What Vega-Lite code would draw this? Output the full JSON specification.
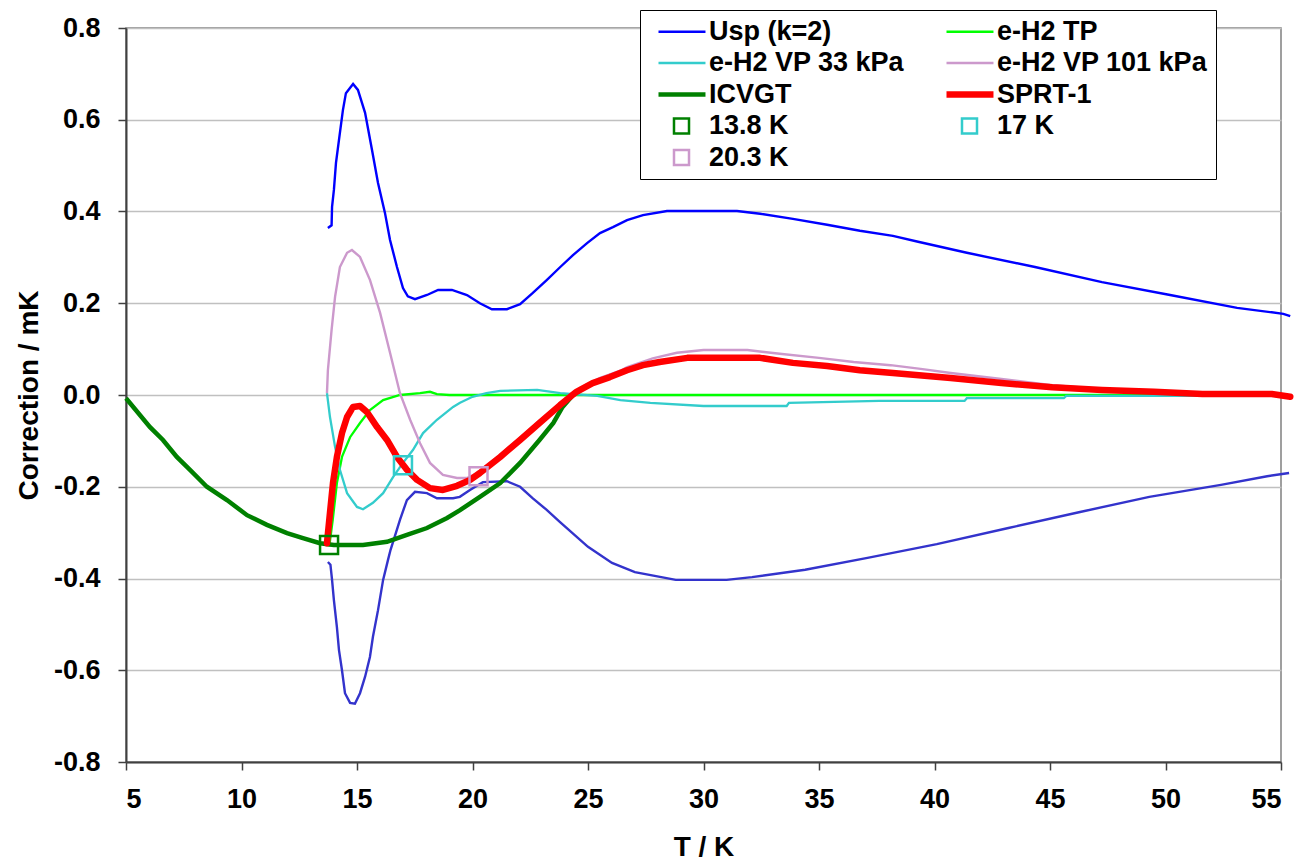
{
  "$schema": "https://vega.github.io/schema/vega-lite/v6.json",
  "width": 1155,
  "height": 734,
  "autosize": {"type": "none"},
  "padding": {"left": 126, "top": 28, "right": 17, "bottom": 102},
  "background": "white",
  "config": {
    "view": {"stroke": "#808080", "strokeWidth": 1.5},
    "axis": {
      "labelFont": "Liberation Sans", "labelFontSize": 27, "labelFontWeight": "bold", "labelColor": "black",
      "titleFont": "Liberation Sans", "titleFontSize": 28, "titleFontWeight": "bold", "titleColor": "black",
      "domainColor": "#404040", "domainWidth": 2, "tickColor": "#404040", "tickWidth": 1.5, "tickSize": 8
    },
    "legend": {
      "labelFont": "Liberation Sans", "labelFontSize": 27, "labelFontWeight": "bold", "labelColor": "black",
      "orient": "none", "legendX": 514, "legendY": -18, "direction": "horizontal",
      "columns": 2, "columnPadding": 28, "rowPadding": 3.5,
      "symbolSize": 380, "symbolOffset": 20, "labelOffset": 14, "labelLimit": 400,
      "symbolFillColor": "transparent", "symbolStrokeWidth": 2.5,
      "strokeColor": "black", "fillColor": "white", "padding": 8
    }
  },
  "data": {
    "values": [
      {"s": "Usp (k=2)", "T": 13.74, "C": 0.364}, {"s": "Usp (k=2)", "T": 13.9, "C": 0.37}, {"s": "Usp (k=2)", "T": 13.92, "C": 0.41},
      {"s": "Usp (k=2)", "T": 14.0, "C": 0.447}, {"s": "Usp (k=2)", "T": 14.09, "C": 0.506}, {"s": "Usp (k=2)", "T": 14.22, "C": 0.556},
      {"s": "Usp (k=2)", "T": 14.39, "C": 0.621}, {"s": "Usp (k=2)", "T": 14.52, "C": 0.658}, {"s": "Usp (k=2)", "T": 14.83, "C": 0.678},
      {"s": "Usp (k=2)", "T": 15.04, "C": 0.665}, {"s": "Usp (k=2)", "T": 15.35, "C": 0.615}, {"s": "Usp (k=2)", "T": 15.65, "C": 0.534},
      {"s": "Usp (k=2)", "T": 15.91, "C": 0.462}, {"s": "Usp (k=2)", "T": 16.21, "C": 0.397}, {"s": "Usp (k=2)", "T": 16.43, "C": 0.338},
      {"s": "Usp (k=2)", "T": 16.73, "C": 0.279}, {"s": "Usp (k=2)", "T": 16.99, "C": 0.233}, {"s": "Usp (k=2)", "T": 17.2, "C": 0.215},
      {"s": "Usp (k=2)", "T": 17.51, "C": 0.209}, {"s": "Usp (k=2)", "T": 18.03, "C": 0.218}, {"s": "Usp (k=2)", "T": 18.51, "C": 0.229},
      {"s": "Usp (k=2)", "T": 19.11, "C": 0.229}, {"s": "Usp (k=2)", "T": 19.76, "C": 0.218}, {"s": "Usp (k=2)", "T": 20.32, "C": 0.2},
      {"s": "Usp (k=2)", "T": 20.84, "C": 0.187}, {"s": "Usp (k=2)", "T": 21.49, "C": 0.187}, {"s": "Usp (k=2)", "T": 22.06, "C": 0.198},
      {"s": "Usp (k=2)", "T": 22.6, "C": 0.222}, {"s": "Usp (k=2)", "T": 23.2, "C": 0.25}, {"s": "Usp (k=2)", "T": 23.8, "C": 0.279},
      {"s": "Usp (k=2)", "T": 24.35, "C": 0.305}, {"s": "Usp (k=2)", "T": 24.96, "C": 0.331}, {"s": "Usp (k=2)", "T": 25.52, "C": 0.353},
      {"s": "Usp (k=2)", "T": 26.08, "C": 0.366}, {"s": "Usp (k=2)", "T": 26.69, "C": 0.381}, {"s": "Usp (k=2)", "T": 27.38, "C": 0.392},
      {"s": "Usp (k=2)", "T": 28.42, "C": 0.401}, {"s": "Usp (k=2)", "T": 31.45, "C": 0.401}, {"s": "Usp (k=2)", "T": 32.45, "C": 0.395},
      {"s": "Usp (k=2)", "T": 33.87, "C": 0.384}, {"s": "Usp (k=2)", "T": 35.35, "C": 0.371}, {"s": "Usp (k=2)", "T": 36.77, "C": 0.358},
      {"s": "Usp (k=2)", "T": 38.2, "C": 0.347}, {"s": "Usp (k=2)", "T": 39.29, "C": 0.334}, {"s": "Usp (k=2)", "T": 41.4, "C": 0.31},
      {"s": "Usp (k=2)", "T": 44.35, "C": 0.279}, {"s": "Usp (k=2)", "T": 47.25, "C": 0.246}, {"s": "Usp (k=2)", "T": 50.2, "C": 0.218},
      {"s": "Usp (k=2)", "T": 53.1, "C": 0.19}, {"s": "Usp (k=2)", "T": 55.1, "C": 0.177}, {"s": "Usp (k=2)", "T": 55.4, "C": 0.172},

      {"s": "Usp lower", "T": 13.74, "C": -0.364}, {"s": "Usp lower", "T": 13.85, "C": -0.37}, {"s": "Usp lower", "T": 13.92, "C": -0.403},
      {"s": "Usp lower", "T": 14.0, "C": -0.447}, {"s": "Usp lower", "T": 14.13, "C": -0.506}, {"s": "Usp lower", "T": 14.22, "C": -0.556},
      {"s": "Usp lower", "T": 14.35, "C": -0.6}, {"s": "Usp lower", "T": 14.48, "C": -0.65}, {"s": "Usp lower", "T": 14.7, "C": -0.671},
      {"s": "Usp lower", "T": 14.91, "C": -0.673}, {"s": "Usp lower", "T": 15.13, "C": -0.65}, {"s": "Usp lower", "T": 15.35, "C": -0.614},
      {"s": "Usp lower", "T": 15.56, "C": -0.571}, {"s": "Usp lower", "T": 15.69, "C": -0.527}, {"s": "Usp lower", "T": 15.91, "C": -0.469},
      {"s": "Usp lower", "T": 16.13, "C": -0.403}, {"s": "Usp lower", "T": 16.34, "C": -0.36}, {"s": "Usp lower", "T": 16.45, "C": -0.338},
      {"s": "Usp lower", "T": 16.86, "C": -0.272}, {"s": "Usp lower", "T": 17.16, "C": -0.229}, {"s": "Usp lower", "T": 17.51, "C": -0.211},
      {"s": "Usp lower", "T": 18.03, "C": -0.214}, {"s": "Usp lower", "T": 18.46, "C": -0.225}, {"s": "Usp lower", "T": 19.16, "C": -0.225},
      {"s": "Usp lower", "T": 19.45, "C": -0.222}, {"s": "Usp lower", "T": 19.89, "C": -0.207}, {"s": "Usp lower", "T": 20.45, "C": -0.19},
      {"s": "Usp lower", "T": 21.49, "C": -0.188}, {"s": "Usp lower", "T": 22.06, "C": -0.2}, {"s": "Usp lower", "T": 22.6, "C": -0.225},
      {"s": "Usp lower", "T": 23.2, "C": -0.25}, {"s": "Usp lower", "T": 23.79, "C": -0.277}, {"s": "Usp lower", "T": 25.0, "C": -0.331},
      {"s": "Usp lower", "T": 26.04, "C": -0.366}, {"s": "Usp lower", "T": 27.03, "C": -0.386}, {"s": "Usp lower", "T": 28.8, "C": -0.403},
      {"s": "Usp lower", "T": 31.0, "C": -0.403}, {"s": "Usp lower", "T": 32.1, "C": -0.397}, {"s": "Usp lower", "T": 34.4, "C": -0.381},
      {"s": "Usp lower", "T": 37.1, "C": -0.355}, {"s": "Usp lower", "T": 40.1, "C": -0.325}, {"s": "Usp lower", "T": 43.2, "C": -0.29},
      {"s": "Usp lower", "T": 46.3, "C": -0.255}, {"s": "Usp lower", "T": 49.3, "C": -0.222}, {"s": "Usp lower", "T": 52.4, "C": -0.196},
      {"s": "Usp lower", "T": 54.4, "C": -0.177}, {"s": "Usp lower", "T": 55.35, "C": -0.17},

      {"s": "e-H2 TP", "T": 13.8, "C": -0.33}, {"s": "e-H2 TP", "T": 13.95, "C": -0.272}, {"s": "e-H2 TP", "T": 14.13, "C": -0.192},
      {"s": "e-H2 TP", "T": 14.35, "C": -0.135}, {"s": "e-H2 TP", "T": 14.7, "C": -0.092}, {"s": "e-H2 TP", "T": 15.13, "C": -0.061},
      {"s": "e-H2 TP", "T": 15.56, "C": -0.033}, {"s": "e-H2 TP", "T": 16.13, "C": -0.011}, {"s": "e-H2 TP", "T": 16.86, "C": 0.0},
      {"s": "e-H2 TP", "T": 17.73, "C": 0.004}, {"s": "e-H2 TP", "T": 18.16, "C": 0.007}, {"s": "e-H2 TP", "T": 18.46, "C": 0.002},
      {"s": "e-H2 TP", "T": 19.0, "C": 0.0}, {"s": "e-H2 TP", "T": 55.3, "C": 0.0},

      {"s": "e-H2 VP 33 kPa", "T": 13.7, "C": 0.004}, {"s": "e-H2 VP 33 kPa", "T": 13.83, "C": -0.048}, {"s": "e-H2 VP 33 kPa", "T": 14.05, "C": -0.113},
      {"s": "e-H2 VP 33 kPa", "T": 14.26, "C": -0.163}, {"s": "e-H2 VP 33 kPa", "T": 14.57, "C": -0.214}, {"s": "e-H2 VP 33 kPa", "T": 15.0, "C": -0.244},
      {"s": "e-H2 VP 33 kPa", "T": 15.26, "C": -0.249}, {"s": "e-H2 VP 33 kPa", "T": 15.69, "C": -0.235}, {"s": "e-H2 VP 33 kPa", "T": 16.13, "C": -0.214},
      {"s": "e-H2 VP 33 kPa", "T": 16.56, "C": -0.179}, {"s": "e-H2 VP 33 kPa", "T": 16.99, "C": -0.148}, {"s": "e-H2 VP 33 kPa", "T": 17.42, "C": -0.12},
      {"s": "e-H2 VP 33 kPa", "T": 17.86, "C": -0.083}, {"s": "e-H2 VP 33 kPa", "T": 18.46, "C": -0.054}, {"s": "e-H2 VP 33 kPa", "T": 19.16, "C": -0.026},
      {"s": "e-H2 VP 33 kPa", "T": 19.46, "C": -0.017}, {"s": "e-H2 VP 33 kPa", "T": 20.0, "C": -0.004}, {"s": "e-H2 VP 33 kPa", "T": 20.6, "C": 0.004},
      {"s": "e-H2 VP 33 kPa", "T": 21.2, "C": 0.009}, {"s": "e-H2 VP 33 kPa", "T": 22.8, "C": 0.011}, {"s": "e-H2 VP 33 kPa", "T": 23.8, "C": 0.004},
      {"s": "e-H2 VP 33 kPa", "T": 25.4, "C": -0.002}, {"s": "e-H2 VP 33 kPa", "T": 26.4, "C": -0.011}, {"s": "e-H2 VP 33 kPa", "T": 27.7, "C": -0.017},
      {"s": "e-H2 VP 33 kPa", "T": 30.0, "C": -0.024}, {"s": "e-H2 VP 33 kPa", "T": 33.6, "C": -0.024}, {"s": "e-H2 VP 33 kPa", "T": 33.7, "C": -0.017},
      {"s": "e-H2 VP 33 kPa", "T": 37.6, "C": -0.013}, {"s": "e-H2 VP 33 kPa", "T": 41.3, "C": -0.013}, {"s": "e-H2 VP 33 kPa", "T": 41.4, "C": -0.007},
      {"s": "e-H2 VP 33 kPa", "T": 45.6, "C": -0.007}, {"s": "e-H2 VP 33 kPa", "T": 45.7, "C": -0.002}, {"s": "e-H2 VP 33 kPa", "T": 51.4, "C": -0.002},
      {"s": "e-H2 VP 33 kPa", "T": 51.5, "C": 0.0},

      {"s": "e-H2 VP 101 kPa", "T": 13.7, "C": 0.004}, {"s": "e-H2 VP 101 kPa", "T": 13.74, "C": 0.054}, {"s": "e-H2 VP 101 kPa", "T": 13.9, "C": 0.142},
      {"s": "e-H2 VP 101 kPa", "T": 14.05, "C": 0.214}, {"s": "e-H2 VP 101 kPa", "T": 14.26, "C": 0.279}, {"s": "e-H2 VP 101 kPa", "T": 14.57, "C": 0.31},
      {"s": "e-H2 VP 101 kPa", "T": 14.78, "C": 0.316}, {"s": "e-H2 VP 101 kPa", "T": 15.13, "C": 0.301}, {"s": "e-H2 VP 101 kPa", "T": 15.56, "C": 0.251},
      {"s": "e-H2 VP 101 kPa", "T": 16.0, "C": 0.179}, {"s": "e-H2 VP 101 kPa", "T": 16.43, "C": 0.092}, {"s": "e-H2 VP 101 kPa", "T": 16.86, "C": 0.004},
      {"s": "e-H2 VP 101 kPa", "T": 17.3, "C": -0.054}, {"s": "e-H2 VP 101 kPa", "T": 17.73, "C": -0.105}, {"s": "e-H2 VP 101 kPa", "T": 18.16, "C": -0.148},
      {"s": "e-H2 VP 101 kPa", "T": 18.72, "C": -0.174}, {"s": "e-H2 VP 101 kPa", "T": 19.33, "C": -0.181}, {"s": "e-H2 VP 101 kPa", "T": 19.76, "C": -0.181},
      {"s": "e-H2 VP 101 kPa", "T": 20.2, "C": -0.17}, {"s": "e-H2 VP 101 kPa", "T": 21.2, "C": -0.13}, {"s": "e-H2 VP 101 kPa", "T": 22.06, "C": -0.093},
      {"s": "e-H2 VP 101 kPa", "T": 22.9, "C": -0.056}, {"s": "e-H2 VP 101 kPa", "T": 23.79, "C": -0.02}, {"s": "e-H2 VP 101 kPa", "T": 24.65, "C": 0.015},
      {"s": "e-H2 VP 101 kPa", "T": 25.5, "C": 0.037}, {"s": "e-H2 VP 101 kPa", "T": 26.4, "C": 0.053}, {"s": "e-H2 VP 101 kPa", "T": 26.7, "C": 0.061},
      {"s": "e-H2 VP 101 kPa", "T": 27.8, "C": 0.08}, {"s": "e-H2 VP 101 kPa", "T": 28.85, "C": 0.092}, {"s": "e-H2 VP 101 kPa", "T": 30.0, "C": 0.098},
      {"s": "e-H2 VP 101 kPa", "T": 31.9, "C": 0.098}, {"s": "e-H2 VP 101 kPa", "T": 33.3, "C": 0.09}, {"s": "e-H2 VP 101 kPa", "T": 35.0, "C": 0.081},
      {"s": "e-H2 VP 101 kPa", "T": 36.5, "C": 0.072}, {"s": "e-H2 VP 101 kPa", "T": 38.1, "C": 0.065}, {"s": "e-H2 VP 101 kPa", "T": 39.4, "C": 0.057},
      {"s": "e-H2 VP 101 kPa", "T": 40.7, "C": 0.048}, {"s": "e-H2 VP 101 kPa", "T": 42.9, "C": 0.035}, {"s": "e-H2 VP 101 kPa", "T": 45.0, "C": 0.022},
      {"s": "e-H2 VP 101 kPa", "T": 48.0, "C": 0.01}, {"s": "e-H2 VP 101 kPa", "T": 50.0, "C": 0.003}, {"s": "e-H2 VP 101 kPa", "T": 52.0, "C": 0.0},
      {"s": "e-H2 VP 101 kPa", "T": 55.0, "C": -0.002},

      {"s": "ICVGT", "T": 5.0, "C": -0.007}, {"s": "ICVGT", "T": 6.04, "C": -0.07}, {"s": "ICVGT", "T": 6.6, "C": -0.098},
      {"s": "ICVGT", "T": 7.2, "C": -0.135}, {"s": "ICVGT", "T": 7.77, "C": -0.163}, {"s": "ICVGT", "T": 8.5, "C": -0.2},
      {"s": "ICVGT", "T": 9.37, "C": -0.229}, {"s": "ICVGT", "T": 10.24, "C": -0.262}, {"s": "ICVGT", "T": 11.1, "C": -0.283},
      {"s": "ICVGT", "T": 11.97, "C": -0.301}, {"s": "ICVGT", "T": 12.66, "C": -0.312}, {"s": "ICVGT", "T": 13.4, "C": -0.323},
      {"s": "ICVGT", "T": 14.0, "C": -0.327}, {"s": "ICVGT", "T": 15.26, "C": -0.327}, {"s": "ICVGT", "T": 16.3, "C": -0.32},
      {"s": "ICVGT", "T": 17.16, "C": -0.305}, {"s": "ICVGT", "T": 18.03, "C": -0.29}, {"s": "ICVGT", "T": 18.9, "C": -0.268},
      {"s": "ICVGT", "T": 19.46, "C": -0.251}, {"s": "ICVGT", "T": 20.32, "C": -0.222}, {"s": "ICVGT", "T": 21.2, "C": -0.192},
      {"s": "ICVGT", "T": 22.06, "C": -0.148}, {"s": "ICVGT", "T": 22.9, "C": -0.098}, {"s": "ICVGT", "T": 23.5, "C": -0.061},
      {"s": "ICVGT", "T": 23.9, "C": -0.026}, {"s": "ICVGT", "T": 24.35, "C": 0.0}, {"s": "ICVGT", "T": 24.8, "C": 0.015},
      {"s": "ICVGT", "T": 25.2, "C": 0.026},

      {"s": "SPRT-1", "T": 13.7, "C": -0.323}, {"s": "SPRT-1", "T": 13.83, "C": -0.257}, {"s": "SPRT-1", "T": 13.96, "C": -0.192},
      {"s": "SPRT-1", "T": 14.13, "C": -0.135}, {"s": "SPRT-1", "T": 14.35, "C": -0.083}, {"s": "SPRT-1", "T": 14.57, "C": -0.048},
      {"s": "SPRT-1", "T": 14.83, "C": -0.026}, {"s": "SPRT-1", "T": 15.13, "C": -0.024}, {"s": "SPRT-1", "T": 15.43, "C": -0.037},
      {"s": "SPRT-1", "T": 15.87, "C": -0.07}, {"s": "SPRT-1", "T": 16.3, "C": -0.098}, {"s": "SPRT-1", "T": 16.73, "C": -0.135},
      {"s": "SPRT-1", "T": 17.16, "C": -0.163}, {"s": "SPRT-1", "T": 17.6, "C": -0.185}, {"s": "SPRT-1", "T": 18.16, "C": -0.203},
      {"s": "SPRT-1", "T": 18.72, "C": -0.207}, {"s": "SPRT-1", "T": 19.33, "C": -0.198}, {"s": "SPRT-1", "T": 19.9, "C": -0.185},
      {"s": "SPRT-1", "T": 20.32, "C": -0.17}, {"s": "SPRT-1", "T": 21.2, "C": -0.135}, {"s": "SPRT-1", "T": 22.06, "C": -0.098},
      {"s": "SPRT-1", "T": 22.9, "C": -0.061}, {"s": "SPRT-1", "T": 23.79, "C": -0.022}, {"s": "SPRT-1", "T": 24.5, "C": 0.007},
      {"s": "SPRT-1", "T": 25.2, "C": 0.026}, {"s": "SPRT-1", "T": 25.95, "C": 0.039}, {"s": "SPRT-1", "T": 26.69, "C": 0.054},
      {"s": "SPRT-1", "T": 27.38, "C": 0.065}, {"s": "SPRT-1", "T": 28.1, "C": 0.072}, {"s": "SPRT-1", "T": 29.3, "C": 0.081},
      {"s": "SPRT-1", "T": 32.45, "C": 0.081}, {"s": "SPRT-1", "T": 33.87, "C": 0.07}, {"s": "SPRT-1", "T": 35.35, "C": 0.063},
      {"s": "SPRT-1", "T": 36.77, "C": 0.054}, {"s": "SPRT-1", "T": 38.2, "C": 0.048}, {"s": "SPRT-1", "T": 40.7, "C": 0.037},
      {"s": "SPRT-1", "T": 42.9, "C": 0.026}, {"s": "SPRT-1", "T": 45.1, "C": 0.017}, {"s": "SPRT-1", "T": 47.25, "C": 0.011},
      {"s": "SPRT-1", "T": 49.5, "C": 0.007}, {"s": "SPRT-1", "T": 51.6, "C": 0.002}, {"s": "SPRT-1", "T": 54.6, "C": 0.002},
      {"s": "SPRT-1", "T": 55.4, "C": -0.004},

      {"s": "13.8 K", "T": 13.79, "C": -0.327},
      {"s": "17 K", "T": 16.99, "C": -0.153},
      {"s": "20.3 K", "T": 20.26, "C": -0.177}
    ]
  },
  "encoding": {
    "x": {
      "field": "T", "type": "quantitative",
      "scale": {"domain": [5, 55], "nice": false, "zero": false},
      "axis": {"values": [5, 10, 15, 20, 25, 30, 35, 40, 45, 50, 55], "title": "T / K", "grid": false, "labelPadding": 16, "titlePadding": 21}
    },
    "y": {
      "field": "C", "type": "quantitative",
      "scale": {"domain": [-0.8, 0.8], "nice": false},
      "axis": {
        "values": [-0.8, -0.6, -0.4, -0.2, 0, 0.2, 0.4, 0.6, 0.8],
        "labelExpr": "replace(format(datum.value, '.1f'), '\u2212', '-')",
        "title": "Correction / mK", "grid": true, "gridColor": "#C0C0C0", "gridWidth": 1.5,
        "labelPadding": 18, "titlePadding": 10
      }
    },
    "color": {
      "field": "s", "type": "nominal",
      "scale": {
        "domain": ["Usp (k=2)", "e-H2 TP", "e-H2 VP 33 kPa", "e-H2 VP 101 kPa", "ICVGT", "SPRT-1", "13.8 K", "17 K", "20.3 K", "Usp lower"],
        "range": ["#0000FF", "#00FF00", "#33CCCC", "#CC99CC", "#008000", "#FF0000", "#008000", "#33CCCC", "#CC99CC", "#3333CC"]
      },
      "legend": {
        "values": ["Usp (k=2)", "e-H2 TP", "e-H2 VP 33 kPa", "e-H2 VP 101 kPa", "ICVGT", "SPRT-1", "13.8 K", "17 K", "20.3 K"],
        "title": null
      }
    },
    "strokeWidth": {
      "field": "s", "type": "nominal",
      "scale": {
        "type": "ordinal",
        "domain": ["Usp (k=2)", "e-H2 TP", "e-H2 VP 33 kPa", "e-H2 VP 101 kPa", "ICVGT", "SPRT-1", "13.8 K", "17 K", "20.3 K", "Usp lower"],
        "range": [2.4, 2.3, 2.3, 2.4, 4.5, 6.5, 2.5, 2.5, 2.5, 2.4]
      },
      "legend": {
        "values": ["Usp (k=2)", "e-H2 TP", "e-H2 VP 33 kPa", "e-H2 VP 101 kPa", "ICVGT", "SPRT-1", "13.8 K", "17 K", "20.3 K"],
        "title": null
      }
    }
  },
  "layer": [
    {
      "transform": [{"filter": {"field": "s", "oneOf": ["Usp (k=2)", "Usp lower", "e-H2 TP", "e-H2 VP 33 kPa", "e-H2 VP 101 kPa"]}}],
      "mark": {"type": "line"}
    },
    {
      "transform": [{"filter": {"field": "s", "equal": "ICVGT"}}],
      "mark": {"type": "line"}
    },
    {
      "transform": [{"filter": {"field": "s", "equal": "SPRT-1"}}],
      "mark": {"type": "line", "strokeCap": "round", "strokeJoin": "round"}
    },
    {
      "transform": [{"filter": {"field": "s", "oneOf": ["13.8 K", "17 K", "20.3 K"]}}],
      "mark": {"type": "point", "filled": false, "size": 546, "opacity": 1},
      "encoding": {
        "shape": {
          "field": "s", "type": "nominal",
          "scale": {
            "domain": ["Usp (k=2)", "e-H2 TP", "e-H2 VP 33 kPa", "e-H2 VP 101 kPa", "ICVGT", "SPRT-1", "13.8 K", "17 K", "20.3 K", "Usp lower"],
            "range": ["M-2.36,0H2.46", "M-2.36,0H2.46", "M-2.36,0H2.46", "M-2.36,0H2.46", "M-2.36,0H2.46", "M-2.36,0H2.46",
                      "M-0.77,-0.77H0.77V0.77H-0.77Z", "M-0.77,-0.77H0.77V0.77H-0.77Z", "M-0.77,-0.77H0.77V0.77H-0.77Z", "M-2.36,0H2.46"]
          },
          "legend": {
            "values": ["Usp (k=2)", "e-H2 TP", "e-H2 VP 33 kPa", "e-H2 VP 101 kPa", "ICVGT", "SPRT-1", "13.8 K", "17 K", "20.3 K"],
            "title": null
          }
        }
      }
    }
  ]
}
